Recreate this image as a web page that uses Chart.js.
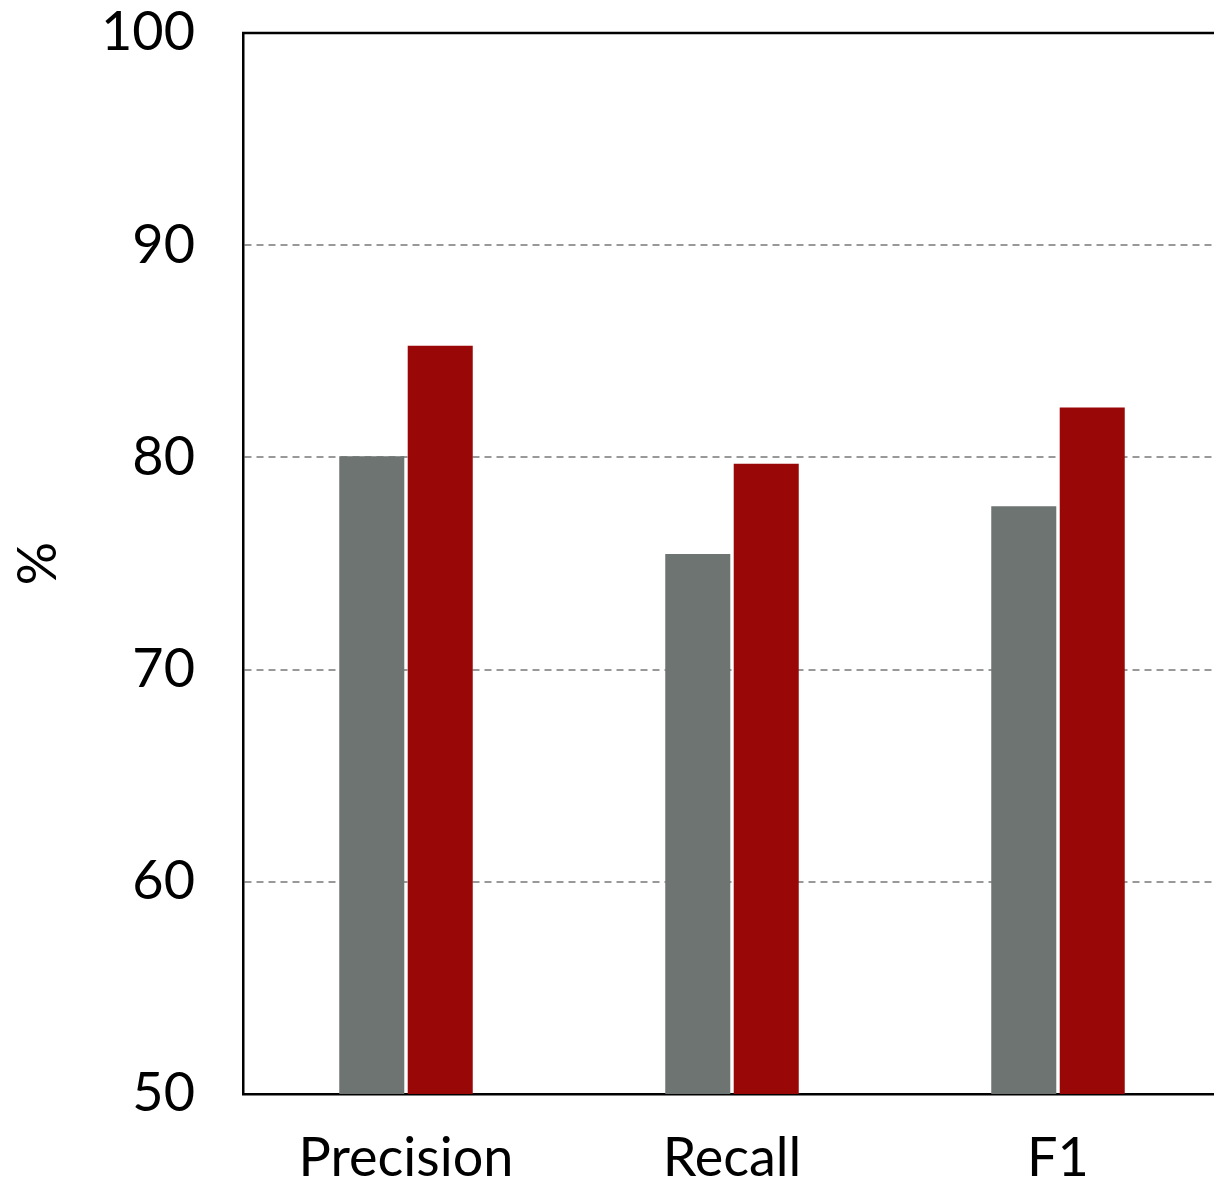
<!DOCTYPE html>
<html>
<head>
<meta charset="utf-8">
<script src="https://cdn.jsdelivr.net/npm/chart.js@4.4.1/dist/chart.umd.min.js"></script>
<style>
  html, body { margin: 0; padding: 0; background: #fff; overflow: hidden; }
  canvas { display: block; }
</style>
</head>
<body>
<canvas id="metricsChart" width="1221" height="1184"></canvas>
<script>
const metrics = ['Precision', 'Recall', 'F1'];
const baselineScores = [80.05, 75.45, 77.7];
const modelScores = [85.26, 79.7, 82.35];
const yTicks = [50, 60, 70, 80, 90, 100];

const fontFamily = 'Lato, "Open Sans", sans-serif';

// solid black line on top of the plot box
const topBorder = {
  id: 'topBorder',
  afterDraw(chart) {
    const {ctx, chartArea} = chart;
    ctx.save();
    ctx.strokeStyle = '#000';
    ctx.lineWidth = 2.5;
    ctx.beginPath();
    ctx.moveTo(chartArea.left - 1, chartArea.top);
    ctx.lineTo(chartArea.right, chartArea.top);
    ctx.stroke();
    ctx.restore();
  }
};

const metricsChart = document.getElementById('metricsChart');
new Chart(metricsChart, {
  type: 'bar',
  data: {
    labels: metrics,
    datasets: [{
      label: 'Baseline',
      data: baselineScores,
      backgroundColor: 'rgb(110, 116, 113)',
      categoryPercentage: 0.42,
      barPercentage: 0.95
    }, {
      label: 'Ours',
      data: modelScores,
      backgroundColor: 'rgb(153, 7, 7)',
      categoryPercentage: 0.42,
      barPercentage: 0.95
    }]
  },
  options: {
    responsive: false,
    animation: false,
    layout: { padding: 0 },
    plugins: {
      legend: { display: false },
      tooltip: { enabled: false }
    },
    scales: {
      x: {
        afterFit: scale => { scale.height = 90; },
        grid: { display: false, drawTicks: false },
        border: { display: true, color: '#000', width: 2.5 },
        ticks: {
          color: '#000',
          padding: 32,
          font: { family: fontFamily, size: 54 }
        }
      },
      y: {
        min: 50,
        max: 100,
        afterFit: scale => {
          scale.width = 243;
          // tick padding otherwise pushes the plot top down
          scale.paddingTop = 33;
          scale.paddingBottom = 0;
        },
        afterBuildTicks: scale => { scale.ticks = yTicks.map(v => ({ value: v })); },
        grid: { color: '#999', lineWidth: 2, drawTicks: false },
        border: { display: true, color: '#000', width: 2.5, dash: [7, 5] },
        ticks: {
          color: '#000',
          padding: 48,
          font: { family: fontFamily, size: 54 }
        },
        title: {
          display: true,
          text: '%',
          color: '#000',
          padding: { top: 6, bottom: 0 },
          font: { family: fontFamily, size: 54 }
        }
      }
    }
  },
  plugins: [topBorder]
});
</script>
</body>
</html>
